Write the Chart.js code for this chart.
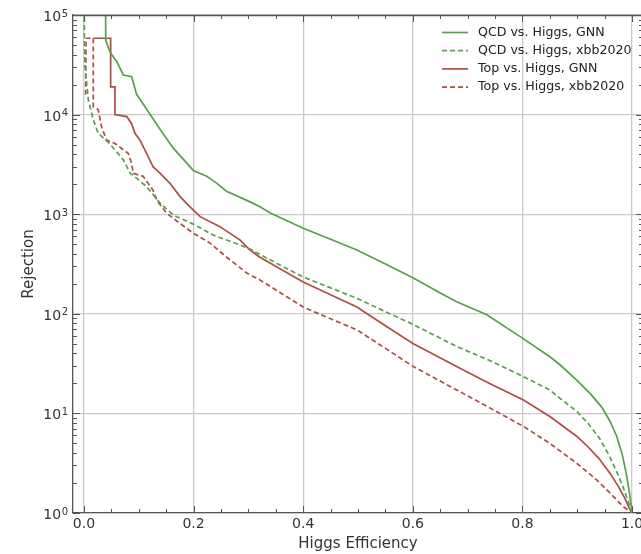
<!DOCTYPE html>
<html><head><meta charset="utf-8">
<script src="https://cdn.jsdelivr.net/npm/chart.js@4/dist/chart.umd.min.js"></script>
<style>html,body{margin:0;padding:0;background:#fff;overflow:hidden;width:641px;height:554px}canvas{display:block}</style>
</head><body><canvas id="c" width="660" height="554"></canvas>
<script>
// ---- data ----
const xTickValues = [0, 0.2, 0.4, 0.6, 0.8, 1.0];
const yTickValues = [1, 10, 100, 1000, 10000, 100000];
const yTickBase = '10';
const yTickExponents = ['0', '1', '2', '3', '4', '5'];
const seriesLabels = ['QCD vs. Higgs, GNN', 'QCD vs. Higgs, xbb2020', 'Top vs. Higgs, GNN', 'Top vs. Higgs, xbb2020'];

const effQcdGnn = [0.0396, 0.0396, 0.048, 0.0535, 0.060, 0.0718, 0.087, 0.096, 0.120, 0.139, 0.163, 0.1995, 0.224, 0.242, 0.260, 0.303, 0.321, 0.340, 0.400, 0.450, 0.498, 0.550, 0.601, 0.650, 0.680, 0.735, 0.802, 0.850, 0.869, 0.899, 0.925, 0.945, 0.960, 0.972, 0.982, 0.990, 0.996, 1.0];
const rejQcdGnn = [200000, 56000, 42000, 38000, 34000, 25000, 24000, 16000, 10200, 7100, 4600, 2750, 2400, 2050, 1700, 1330, 1190, 1030, 724, 560, 437, 316, 229, 162, 132, 98, 56, 37, 30.6, 21.6, 15.5, 11.5, 8.3, 5.9, 3.9, 2.4, 1.5, 1.0];

const effQcdXbb = [0.0, 0.001, 0.002, 0.008, 0.017, 0.026, 0.047, 0.072, 0.084, 0.114, 0.139, 0.163, 0.1995, 0.236, 0.285, 0.303, 0.333, 0.400, 0.450, 0.498, 0.550, 0.601, 0.680, 0.740, 0.802, 0.850, 0.869, 0.899, 0.920, 0.940, 0.958, 0.972, 0.984, 0.993, 1.0];
const rejQcdXbb = [200000, 50000, 30000, 14000, 8900, 6500, 5100, 3500, 2600, 1900, 1290, 980, 795, 617, 490, 447, 363, 234, 182, 143, 105, 78, 47, 34, 23.4, 17.2, 14.1, 10.5, 7.9, 5.7, 3.8, 2.6, 1.8, 1.3, 1.0];

const effTopGnn = [0.017, 0.0487, 0.0487, 0.0566, 0.0566, 0.078, 0.087, 0.093, 0.102, 0.114, 0.126, 0.139, 0.157, 0.175, 0.193, 0.212, 0.248, 0.285, 0.303, 0.321, 0.400, 0.450, 0.498, 0.550, 0.601, 0.680, 0.740, 0.802, 0.850, 0.899, 0.920, 0.940, 0.960, 0.975, 0.987, 0.995, 1.0];
const rejTopGnn = [58400, 58400, 19000, 19000, 10000, 9550, 8100, 6500, 5560, 4100, 3000, 2570, 2040, 1510, 1190, 945, 750, 550, 437, 370, 209, 155, 117, 76, 50, 29.5, 20, 13.6, 9.3, 5.9, 4.6, 3.5, 2.5, 1.85, 1.4, 1.12, 1.0];

const effTopXbb = [0.003, 0.004, 0.017, 0.017, 0.026, 0.032, 0.041, 0.0566, 0.072, 0.081, 0.087, 0.090, 0.108, 0.126, 0.133, 0.151, 0.175, 0.1995, 0.230, 0.260, 0.297, 0.321, 0.400, 0.450, 0.498, 0.550, 0.601, 0.680, 0.740, 0.802, 0.850, 0.899, 0.936, 0.960, 0.984, 1.0];
const rejTopXbb = [15800, 58400, 58400, 12000, 11200, 7600, 5560, 5130, 4420, 4070, 3240, 2570, 2400, 1740, 1380, 1020, 810, 645, 513, 372, 257, 219, 117, 89, 69, 45, 29.5, 17.2, 11.4, 7.4, 5.0, 3.16, 2.14, 1.58, 1.16, 1.0];

// ---- styling ----
const GREEN = '#58a04c';
const RED = '#ab4f45';
const FONT = '"DejaVu Sans", sans-serif';
const TXT = '#333333';

function pts(xs, ys) { return xs.map((x, i) => ({ x: x, y: ys[i] })); }

const datasets = [
  { label: seriesLabels[0], data: pts(effQcdGnn, rejQcdGnn), borderColor: GREEN, borderDash: [] },
  { label: seriesLabels[1], data: pts(effQcdXbb, rejQcdXbb), borderColor: GREEN, borderDash: [5, 3] },
  { label: seriesLabels[2], data: pts(effTopGnn, rejTopGnn), borderColor: RED, borderDash: [] },
  { label: seriesLabels[3], data: pts(effTopXbb, rejTopXbb), borderColor: RED, borderDash: [5, 3] }
].map(d => Object.assign(d, { borderWidth: 1.7, pointRadius: 0, tension: 0, fill: false, clip: 0 }));

const decor = {
  id: 'decor',
  afterDraw(chart) {
    const ctx = chart.ctx, a = chart.chartArea, xs = chart.scales.x, ys = chart.scales.y;
    ctx.save();
    ctx.strokeStyle = '#555';
    ctx.lineWidth = 1.3;
    ctx.setLineDash([]);
    // top and right spines
    ctx.beginPath();
    ctx.moveTo(a.left, a.top + 0.5); ctx.lineTo(a.right, a.top + 0.5);
    ctx.moveTo(a.right - 0.5, a.top); ctx.lineTo(a.right - 0.5, a.bottom);
    ctx.stroke();
    ctx.lineWidth = 1;
    ctx.beginPath();
    for (let k = 0; k <= 20; k++) {
      const px = Math.round(xs.getPixelForValue(k * 0.05)) + 0.5;
      const len = (k % 4 === 0) ? 7 : 4;
      ctx.moveTo(px, a.bottom); ctx.lineTo(px, a.bottom - len);
      ctx.moveTo(px, a.top); ctx.lineTo(px, a.top + len);
    }
    for (let n = 0; n <= 4; n++) {
      for (let m = 1; m <= 9; m++) {
        const py = Math.round(ys.getPixelForValue(m * Math.pow(10, n))) + 0.5;
        const len = (m === 1) ? 7 : 4;
        ctx.moveTo(a.left, py); ctx.lineTo(a.left + len, py);
        ctx.moveTo(a.right, py); ctx.lineTo(a.right - len, py);
      }
    }
    ctx.stroke();
    // y tick labels: 10 with a raised exponent
    ctx.fillStyle = TXT;
    ctx.textAlign = 'left';
    ctx.textBaseline = 'alphabetic';
    yTickValues.forEach((v, i) => {
      const py = ys.getPixelForValue(v);
      ctx.font = '10px ' + FONT;
      const ew = ctx.measureText(yTickExponents[i]).width;
      ctx.font = '14px ' + FONT;
      const bw = ctx.measureText(yTickBase).width;
      const ex = a.left - 5 - ew;
      const bx = ex - bw - 0.5;
      ctx.fillText(yTickBase, bx, py + 6);
      ctx.font = '10px ' + FONT;
      ctx.fillText(yTickExponents[i], ex, py + 1.5);
    });
    // legend inside the plot (top right)
    const lx0 = a.right - 201, lx1 = a.right - 175, tx = a.right - 165;
    chart.data.datasets.forEach((d, i) => {
      const y = a.top + 17.5 + i * 18.2;
      ctx.strokeStyle = d.borderColor;
      ctx.lineWidth = d.borderWidth;
      ctx.setLineDash(d.borderDash || []);
      ctx.beginPath(); ctx.moveTo(lx0, y); ctx.lineTo(lx1, y); ctx.stroke();
      ctx.setLineDash([]);
      ctx.fillStyle = '#222';
      ctx.font = '12.6px ' + FONT;
      ctx.textBaseline = 'middle';
      ctx.textAlign = 'left';
      ctx.fillText(d.label, tx, y);
    });
    ctx.restore();
  }
};

new Chart(document.getElementById('c'), {
  type: 'line',
  data: { datasets: datasets },
  plugins: [decor],
  options: {
    responsive: false,
    animation: false,
    devicePixelRatio: 1,
    layout: { padding: { left: 0, right: 17, top: 15, bottom: 0 } },
    plugins: { legend: { display: false }, tooltip: { enabled: false } },
    scales: {
      x: {
        type: 'linear', min: -0.02, max: 1.02,
        afterBuildTicks: s => { s.ticks = xTickValues.map(v => ({ value: v })); },
        afterFit: s => { s.height = 41; },
        ticks: { callback: v => Number(v).toFixed(1), color: TXT, font: { family: FONT, size: 14 }, padding: 3, maxRotation: 0, autoSkip: false },
        grid: { color: '#cacaca', lineWidth: 1.3, drawTicks: false },
        border: { color: '#555', width: 1.3 },
        title: { display: true, text: 'Higgs Efficiency', color: TXT, font: { family: FONT, size: 15 }, padding: { top: 0, bottom: 1 } }
      },
      y: {
        type: 'logarithmic', min: 1, max: 100000,
        afterBuildTicks: s => { s.ticks = yTickValues.map(v => ({ value: v })); },
        afterFit: s => { s.width = 73; },
        ticks: { display: false },
        grid: { color: '#cacaca', lineWidth: 1.3, drawTicks: false },
        border: { color: '#555', width: 1.3 },
        title: { display: true, text: 'Rejection', color: TXT, font: { family: FONT, size: 15 }, padding: { top: 20, bottom: 0 } }
      }
    }
  }
});
</script>
</body></html>
